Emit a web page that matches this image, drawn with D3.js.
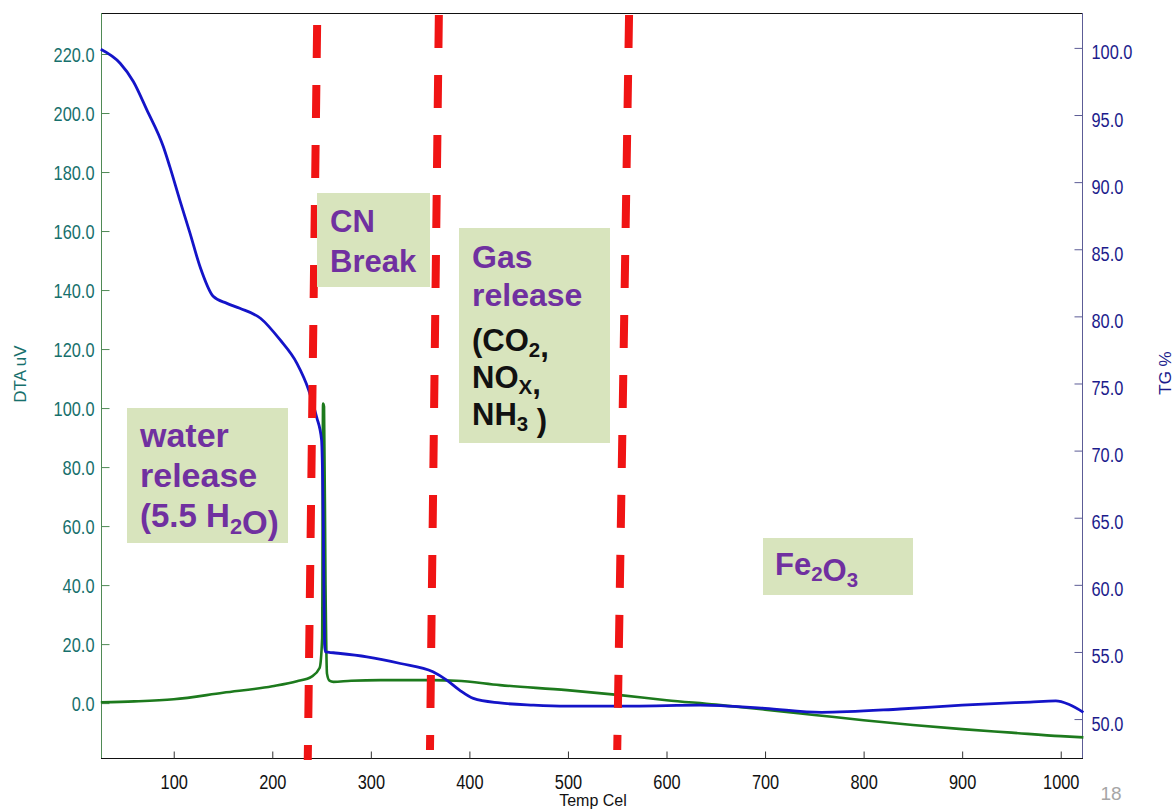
<!DOCTYPE html>
<html>
<head>
<meta charset="utf-8">
<script src="https://cdn.jsdelivr.net/npm/d3@7"></script>
<style>
  html, body { margin: 0; padding: 0; background: #ffffff; }
  svg { display: block; }
  text { font-family: "Liberation Sans", Arial, sans-serif; }
</style>
</head>
<body>
<svg id="chart" width="1175" height="809"></svg>
<script>
// ---- DTA trace (left axis, uV) ----
const dtaTemp  = [26, 60, 100, 150, 200, 225, 240, 248, 250.6, 251.5, 252.5, 254, 255.5, 258, 262, 280, 310, 363, 387, 431, 499, 553, 600, 650, 700, 750, 800, 850, 900, 950, 1000, 1023];
const dtaValue = [0.3, 0.6, 1.3, 3.5, 5.7, 7.4, 9.0, 11.9, 22, 101.5, 100.5, 40, 10, 7.6, 7.2, 7.6, 7.8, 7.8, 7.6, 6.1, 4.4, 2.7, 1.0, -0.5, -2.2, -4.0, -5.8, -7.4, -8.8, -10.0, -11.2, -11.6];

// ---- TG trace (right axis, %) ----
const tgTemp  = [26, 45.6, 59, 72.6, 89.4, 96, 106, 116.5, 126.7, 140, 154, 167, 188, 208, 225, 237, 245, 250, 251.8, 253, 254, 262, 296, 330, 363, 377, 390, 404, 431, 465, 499, 566, 634, 700, 757, 837, 900, 969, 995, 1008, 1023];
const tgValue = [99.9, 98.86, 97.5, 95.4, 92.65, 91.15, 88.7, 86.2, 83.7, 81.5, 80.97, 80.6, 79.86, 78.24, 76.5, 74.5, 72.5, 70.8, 64.3, 55.6, 55.0, 54.94, 54.64, 54.14, 53.52, 52.9, 52.16, 51.54, 51.2, 51.04, 50.97, 50.97, 51.04, 50.8, 50.5, 50.75, 51.04, 51.27, 51.35, 51.1, 50.5];

// ---- stage boundaries (temperature at top and at bottom of each dashed marker) ----
const boundaryTopTemp    = [245.5, 369, 562];
const boundaryBottomTemp = [236, 360, 550];

// ---- axis ticks ----
const tempTicks = [100, 200, 300, 400, 500, 600, 700, 800, 900, 1000];
const dtaTicks  = [0, 20, 40, 60, 80, 100, 120, 140, 160, 180, 200, 220];
const tgTicks   = [50, 55, 60, 65, 70, 75, 80, 85, 90, 95, 100];

const svg = d3.select("#chart");
const plot = { left: 101, right: 1083, top: 13, bottom: 758 };

const x  = d3.scaleLinear().domain([26.2, 1022.6]).range([plot.left, plot.right]);
const yL = d3.scaleLinear().domain([-18.6, 233.9]).range([plot.bottom, plot.top]);
const yR = d3.scaleLinear().domain([47.1, 102.6]).range([plot.bottom, plot.top]);

const fmt = d3.format(".1f");
const squeeze = "scale(0.84,1)";

// top frame line
svg.append("line")
  .attr("x1", plot.left).attr("x2", plot.right)
  .attr("y1", plot.top + 0.5).attr("y2", plot.top + 0.5)
  .attr("stroke", "#111").attr("stroke-width", 1);

// left (DTA) axis
const gL = svg.append("g").attr("transform", `translate(${plot.left + 0.5},0)`)
  .call(d3.axisLeft(yL).tickValues(dtaTicks).tickFormat(fmt).tickSizeInner(-8).tickSizeOuter(0));
gL.select(".domain").attr("stroke", "#4f8a55").attr("d", `M0,${plot.top}V${plot.bottom}`);
gL.selectAll(".tick line").attr("stroke", "#4f8a55");
gL.selectAll(".tick text")
  .attr("x", 0).attr("dy", "0.36em")
  .attr("text-anchor", "end")
  .attr("transform", `translate(-7,0) ${squeeze}`)
  .attr("fill", "#17706c").attr("font-size", 19.5);

// right (TG) axis
const gR = svg.append("g").attr("transform", `translate(${plot.right - 0.5},0)`)
  .call(d3.axisRight(yR).tickValues(tgTicks).tickFormat(fmt).tickSizeInner(-8).tickSizeOuter(0));
gR.select(".domain").attr("stroke", "#5c5c96").attr("d", `M0,${plot.top}V${plot.bottom}`);
gR.selectAll(".tick line").attr("stroke", "#5c5c96");
gR.selectAll(".tick text")
  .attr("x", 0).attr("dy", "0.36em")
  .attr("text-anchor", "start")
  .attr("transform", `translate(9,4) ${squeeze}`)
  .attr("fill", "#1c1c8c").attr("font-size", 19.5);

// bottom (temperature) axis
const gX = svg.append("g").attr("transform", `translate(0,${plot.bottom + 0.5})`)
  .call(d3.axisBottom(x).tickValues(tempTicks).tickFormat(d3.format("d")).tickSizeInner(-7).tickSizeOuter(0));
gX.select(".domain").attr("stroke", "#111").attr("d", `M${plot.left},0H${plot.right}`);
gX.selectAll(".tick line").attr("stroke", "#333");
gX.selectAll(".tick text")
  .attr("y", 0).attr("dy", 0)
  .attr("text-anchor", "middle")
  .attr("transform", `translate(0,30) ${squeeze}`)
  .attr("fill", "#111").attr("font-size", 19.5);

// axis titles
svg.append("text")
  .attr("transform", "translate(26,374) rotate(-90)")
  .attr("text-anchor", "middle")
  .attr("fill", "#17706c").attr("font-size", 17)
  .text("DTA uV");
svg.append("text")
  .attr("transform", "translate(1171,373) rotate(-90)")
  .attr("text-anchor", "middle")
  .attr("fill", "#1c1c8c").attr("font-size", 17)
  .text("TG %");
svg.append("text")
  .attr("x", 593).attr("y", 806)
  .attr("text-anchor", "middle")
  .attr("fill", "#111").attr("font-size", 16)
  .text("Temp Cel");

// page number
svg.append("text")
  .attr("x", 1111).attr("y", 800)
  .attr("text-anchor", "middle")
  .attr("fill", "#a6a6a6").attr("font-size", 19)
  .text("18");

// curves
const dtaLine = d3.line()
  .x((d, i) => x(dtaTemp[i]))
  .y(d => yL(d))
  .curve(d3.curveMonotoneX);
const tgLine = d3.line()
  .x((d, i) => x(tgTemp[i]))
  .y(d => yR(d))
  .curve(d3.curveMonotoneX);

svg.append("path")
  .attr("d", dtaLine(dtaValue))
  .attr("fill", "none").attr("stroke", "#1d7a1d").attr("stroke-width", 2.6)
  .attr("stroke-linejoin", "round");
svg.append("path")
  .attr("d", tgLine(tgValue))
  .attr("fill", "none").attr("stroke", "#1414c8").attr("stroke-width", 2.8)
  .attr("stroke-linejoin", "round");

// dashed stage boundaries
const markerTop = [25, 15, 15];
const markerBottom = [760, 750, 750];
svg.append("g").selectAll("line")
  .data(boundaryTopTemp)
  .join("line")
  .attr("x1", d => x(d))
  .attr("y1", (d, i) => markerTop[i])
  .attr("x2", (d, i) => x(boundaryBottomTemp[i]))
  .attr("y2", (d, i) => markerBottom[i])
  .attr("stroke", "#f01414")
  .attr("stroke-width", 8)
  .attr("stroke-dasharray", "33 27");

// annotation boxes
const boxFill = "#d8e4bd";
const purple = "#7030a0";

function box(x0, y0, w, h) {
  svg.append("rect").attr("x", x0).attr("y", y0).attr("width", w).attr("height", h).attr("fill", boxFill);
}
function label(x0, y0, size, color, parts) {
  const t = svg.append("text")
    .attr("x", x0).attr("y", y0)
    .attr("font-size", size).attr("font-weight", "bold")
    .attr("fill", color);
  parts.forEach(p => {
    if (typeof p === "string") {
      t.append("tspan").text(p);
    } else {
      t.append("tspan").attr("font-size", size * 0.66).attr("dy", size * 0.2).text(p.sub);
      t.append("tspan").attr("dy", -size * 0.2).text("");
    }
  });
}

// water release
box(127, 408, 161, 135);
label(140, 447, 34, purple, ["water"]);
label(140, 487, 34, purple, ["release"]);
label(140, 527, 33, purple, ["(5.5 H", { sub: "2" }, "O)"]);

// CN break
box(317, 193, 113, 94);
label(330, 232, 31, purple, ["CN"]);
label(330, 272, 31, purple, ["Break"]);

// gas release
box(459, 228, 151, 215);
label(472, 268, 32, purple, ["Gas"]);
label(472, 306, 32, purple, ["release"]);
label(472, 351, 31, "#111", ["(CO", { sub: "2" }, ","]);
label(472, 388, 31, "#111", ["NO", { sub: "X" }, ","]);
label(472, 425, 31, "#111", ["NH", { sub: "3" }, " )"]);

// residue
box(763, 538, 150, 57);
label(775, 575, 31, purple, ["Fe", { sub: "2" }, "O", { sub: "3" }]);
</script>
</body>
</html>
